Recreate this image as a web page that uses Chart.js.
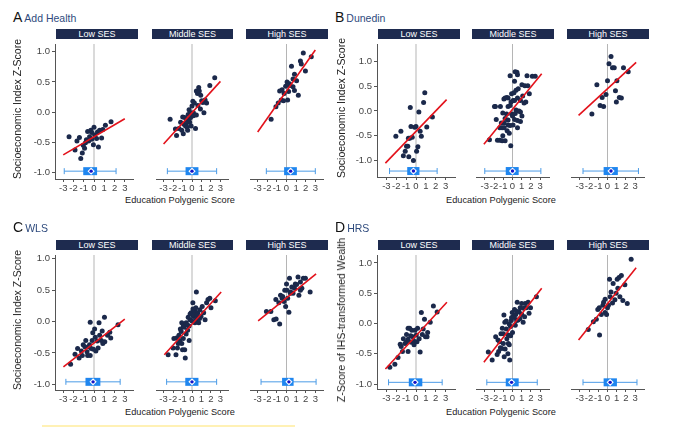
<!DOCTYPE html>
<html>
<head>
<meta charset="utf-8">
<script src="https://cdn.jsdelivr.net/npm/chart.js@4.4.1/dist/chart.umd.min.js"></script>
<style>
  body { margin: 0; width: 680px; height: 428px; background: #fff; position: relative; overflow: hidden;
         font-family: 'Liberation Sans', Arial, sans-serif; }
  canvas { position: absolute; }
  .strip { position: absolute; height: 10px; line-height: 10px; background: #1e2b4f; color: #fff;
           font-size: 9px; text-align: center; }
  .ptitle { position: absolute; white-space: nowrap; }
  .ptitle .let { font-size: 14px; color: #111; }
  .ptitle .nm { font-size: 10.5px; color: #2e4a7d; margin-left: 2px; }
  .xtitle { position: absolute; font-size: 9.2px; color: #222; white-space: nowrap; transform: translate(-50%, -50%); }
  .ytitle { position: absolute; font-size: 10.5px; color: #222; white-space: nowrap;
            transform: translate(-50%, -50%) rotate(-90deg); }
</style>
</head>
<body>
<script>
// tick labels and facet names
const xTicks = [-3, -2, -1, 0, 1, 2, 3];
const yTicks = [-1, -0.5, 0, 0.5, 1];
const groups = ['Low SES', 'Middle SES', 'High SES'];

// Add Health: points [polygenic score, SES z-score]
const addHealthLow = [[-2.43,-0.41],[-1.85,-0.63],[-1.66,-0.48],[-1.42,-0.42],[-1.29,-0.77],[-1.14,-0.68],[-1.05,-0.55],[-0.92,-0.60],[-0.83,-0.51],[-0.74,-0.46],[-0.62,-0.32],[-0.52,-0.48],[-0.43,-0.41],[-0.31,-0.30],[-0.22,-0.45],[-0.22,-0.34],[-0.06,-0.54],[0,-0.25],[0.06,-0.38],[0.25,-0.44],[0.34,-0.33],[0.43,-0.58],[0.55,-0.30],[0.74,-0.43],[0.86,-0.29],[1.11,-0.22],[1.66,-0.16]];
const addHealthMid = [[-2.31,-0.12],[-1.75,-0.28],[-1.63,-0.39],[-1.38,-0.27],[-1.2,-0.17],[-1.08,-0.30],[-0.98,-0.08],[-0.92,-0.36],[-0.86,-0.20],[-0.77,-0.09],[-0.68,-0.23],[-0.62,-0.21],[-0.58,-0.14],[-0.52,-0.25],[-0.46,-0.30],[-0.40,-0.04],[-0.31,0.04],[-0.31,-0.12],[-0.25,-0.17],[-0.15,-0.09],[-0.15,-0.01],[-0.09,-0.23],[0,0.10],[0.09,0.18],[0.15,-0.01],[0.15,-0.06],[0.25,0.15],[0.37,-0.27],[0.46,-0.05],[0.46,0.35],[0.58,0.31],[0.62,0.11],[0.71,0.41],[0.77,0.35],[0.89,0.05],[0.92,0.28],[1.02,0.19],[1.14,0.16],[1.26,-0.01],[1.38,0.20],[1.54,0.15],[1.88,0.44],[2.4,0.57]];
const addHealthHigh = [[-1.6,-0.12],[-1.1,0.09],[-0.86,0.15],[-0.71,0.35],[-0.55,0.20],[-0.46,0.37],[-0.31,0.19],[-0.25,0.31],[-0.09,0.43],[0.06,0.50],[0.12,0.20],[0.22,0.34],[0.31,0.47],[0.37,0.44],[0.52,0.76],[0.68,0.55],[0.68,0.42],[0.83,0.63],[0.83,0.36],[1.05,0.52],[1.23,0.28],[1.45,0.85],[1.54,0.80],[1.75,0.98],[1.97,0.68],[2.58,0.92]];

// Dunedin
const dunedinLow = [[-2.04,-0.51],[-1.53,-0.41],[-1.28,-0.90],[-1.09,-0.81],[-0.96,-0.71],[-0.83,-0.71],[-0.77,-0.55],[-0.73,-0.92],[-0.64,-0.55],[-0.58,0.07],[-0.51,-0.31],[-0.38,-0.53],[-0.26,-1.0],[-0.13,-0.33],[0,-0.31],[0.06,-0.81],[0.19,-0.72],[0.29,-0.02],[0.42,-0.41],[0.54,-0.51],[0.77,0.17],[0.89,0.37],[1.09,-0.32],[1.66,-0.12]];
const dunedinMid = [[-0.26,0.71],[0.48,0.78],[0.54,0.73],[1.57,0.71],[2.14,0.70],[2.46,0.70],[0.22,0.60],[1.02,0.53],[1.34,0.51],[1.66,0.51],[0.38,0.42],[-0.1,0.35],[0.16,0.37],[-0.8,0.26],[-0.48,0.26],[0.54,0.26],[1.82,0.35],[0.86,0.21],[1.25,0.16],[-0.16,0.18],[0.06,0.21],[0.22,0.21],[-1.85,0.09],[-1.31,0.09],[-0.48,0.09],[-0.26,0.11],[1.44,0.18],[0.38,0.02],[0.70,0],[0.86,-0.02],[-1.05,-0.04],[-0.64,-0.06],[-0.1,-0.06],[0,-0.10],[1.02,-0.10],[-1.76,-0.17],[-0.8,-0.15],[-0.48,-0.18],[0.22,-0.17],[0.54,-0.19],[0.86,-0.21],[-1.21,-0.24],[-0.9,-0.24],[-0.48,-0.28],[-0.26,-0.29],[0.06,-0.28],[-1.37,-0.34],[-1.12,-0.34],[-0.9,-0.34],[0.54,-0.34],[-0.58,-0.40],[-2.49,-0.58],[-1.63,-0.59],[-1.37,-0.59],[-1.12,-0.60],[-0.8,-0.60],[-1.05,-0.50],[-0.19,-0.70],[-1.95,0.09],[-0.93,0.24],[-0.61,0.27],[0.29,0.79],[0.62,0.45],[1.1,0.30],[-0.35,-0.45],[0.3,-0.05]];
const dunedinHigh = [[-1.69,-0.06],[-1.15,0.53],[-0.80,0.11],[-0.58,0.27],[-0.42,0.09],[-0.16,0.33],[0,0.61],[0.16,0.95],[0.38,1.10],[0.54,0.87],[0.73,0.87],[0.86,0.41],[0.96,0.18],[1.02,0.61],[1.28,0.27],[1.5,0.26],[1.73,0.87],[2.24,0.79]];

// WLS
const wlsLow = [[-2.28,-0.68],[-1.85,-0.52],[-1.6,-0.43],[-1.45,-0.58],[-1.23,-0.47],[-1.14,-0.54],[-1.05,-0.37],[-0.89,-0.40],[-0.8,-0.30],[-0.68,-0.48],[-0.62,-0.54],[-0.52,-0.40],[-0.43,-0.37],[-0.37,-0.01],[-0.37,-0.54],[-0.28,-0.43],[-0.18,-0.30],[-0.12,-0.18],[-0.06,-0.44],[0.06,-0.12],[0.12,-0.25],[0.18,-0.47],[0.31,-0.31],[0.4,-0.42],[0.49,-0.02],[0.55,-0.22],[0.71,-0.30],[0.8,-0.15],[0.86,-0.35],[1.02,0.07],[1.05,-0.32],[1.32,-0.22],[1.54,-0.17],[1.63,-0.26],[2.34,-0.05]];
const wlsMid = [[-2.52,-0.53],[-2.0,-0.42],[-1.69,-0.53],[-1.91,-0.27],[-1.63,-0.26],[-1.54,-0.42],[-1.45,-0.35],[-1.38,-0.22],[-1.23,-0.12],[-1.14,-0.16],[-1.08,-0.35],[-1.08,-0.02],[-0.92,-0.27],[-0.92,-0.07],[-0.83,-0.09],[-0.77,-0.45],[-0.71,-0.58],[-0.62,-0.02],[-0.62,-0.20],[-0.46,-0.14],[-0.40,0.07],[-0.31,-0.07],[-0.22,0.03],[-0.09,0.14],[0,0.01],[0.09,0.30],[0.15,0.08],[0.31,0.16],[0.31,-0.02],[0.46,0.47],[0.46,0.03],[0.62,0.14],[0.62,0.06],[0.71,-0.02],[0.83,0.19],[0.95,0.08],[1.08,0.24],[1.23,0.14],[1.38,0.03],[1.54,0.30],[1.69,0.35],[1.88,0.37],[2.0,0.22],[2.46,0.33],[-0.2,0.12],[0.2,0.10],[0.1,0.20],[-0.5,-0.05],[0.5,0.10],[-0.3,-0.30],[0.4,0.22],[-1.0,-0.45],[-1.3,-0.30],[0.8,0.05]];
const wlsHigh = [[-2.09,0.16],[-1.63,0.16],[-1.32,0.03],[-1.08,0.04],[-0.71,-0.04],[-1.11,0.35],[-0.8,0.30],[-0.62,0.42],[-0.46,0.37],[-0.25,0.32],[-0.18,0.50],[-0.09,0.24],[0,0.60],[0.12,0.37],[0.25,0.15],[0.31,0.69],[0.43,0.47],[0.55,0.55],[0.68,0.45],[0.83,0.53],[0.92,0.60],[1.05,0.59],[1.2,0.71],[1.29,0.42],[1.45,0.50],[1.45,0.63],[1.6,0.53],[1.75,0.69],[1.97,0.69],[2.46,0.47],[-0.4,0.40],[0.4,0.45],[0.05,0.50]];

// HRS
const hrsLow = [[-2.65,-0.72],[-2.14,-0.67],[-1.82,-0.56],[-1.6,-0.34],[-1.5,-0.38],[-1.37,-0.46],[-1.28,-0.25],[-1.12,-0.33],[-0.96,-0.30],[-0.96,-0.18],[-0.8,-0.08],[-0.64,-0.08],[-0.8,-0.26],[-0.8,-0.46],[-0.54,-0.20],[-0.48,-0.31],[-0.42,-0.11],[-0.32,-0.22],[-0.22,-0.29],[-0.1,-0.11],[0.03,-0.19],[0.16,-0.08],[0.32,-0.25],[0.42,-0.47],[0.54,0.18],[0.64,-0.18],[0.73,-0.09],[0.86,0.07],[0.96,-0.22],[1.12,-0.22],[1.18,-0.15],[1.44,0.02],[1.76,0.29],[2.14,0.19],[-0.2,-0.35],[0.1,-0.30]];
const hrsMid = [[-2.62,-0.47],[-2.2,-0.60],[-1.82,-0.22],[-1.57,-0.27],[-1.66,-0.51],[-1.5,-0.46],[-1.31,-0.40],[-1.15,-0.41],[-0.99,-0.33],[-1.25,-0.17],[-0.99,-0.17],[-0.93,0.14],[-0.83,0.02],[-0.67,-0.09],[-0.61,-0.25],[-0.45,-0.33],[-0.45,-0.19],[-0.35,-0.35],[-0.22,-0.05],[-0.13,0.05],[-0.03,0.18],[0.1,0.12],[0.22,0.23],[0.35,0.15],[0.51,0.35],[0.61,0.06],[0.73,0.19],[0.83,0.26],[0.99,0.33],[1.15,0.02],[1.31,0.11],[1.37,0.33],[1.5,0.26],[1.69,0.35],[1.79,0.17],[1.95,0.26],[2.59,0.44],[0.3,-0.03],[-0.35,-0.01],[-0.67,0.04],[-1.1,-0.08],[0,-0.15],[-0.5,-0.50],[-0.8,-0.42],[0.2,0.10],[0.5,0.20],[1.0,0.15],[-0.2,-0.20],[-1.4,-0.30],[0.45,0.05],[-0.1,0.10],[0.8,0.08],[1.2,0.25],[-0.9,-0.55],[-0.3,-0.60]];
const hrsHigh = [[-2.08,-0.10],[-1.53,0.03],[-1.21,0.07],[-0.86,-0.19],[-1.05,0.23],[-0.89,0.26],[-0.67,0.15],[-0.42,0.35],[-0.26,0.40],[-0.26,0.18],[-0.10,0.15],[0,0.26],[0.22,0.73],[0.29,0.44],[0.38,0.52],[0.54,0.34],[0.61,0.66],[0.8,0.39],[0.93,0.50],[1.05,0.73],[1.25,0.76],[1.5,0.79],[1.12,0.58],[1.34,0.44],[1.66,0.38],[1.88,0.64],[2.14,0.33],[2.56,1.06],[0.1,0.30],[-0.5,0.30]];

// fitted lines per facet: [x0, y0, x1, y1]
const addHealthFit = [[-3,-0.71,3,-0.11],[-3,-0.53,3,0.51],[-3,-0.33,3,1.03]];
const dunedinFit = [[-3.1,-1.05,3.1,0.23],[-3.1,-0.67,3.16,0.75],[-3.13,-0.09,3.1,0.98]];
const wlsFit = [[-2.98,-0.72,3,0.04],[-2.92,-0.53,3.08,0.47],[-2.95,0.01,3.08,0.76]];
const hrsFit = [[-3.1,-0.75,3.13,0.35],[-3.1,-0.64,3.16,0.58],[-3.13,-0.27,3.1,0.92]];

// score distribution per facet: [whisker low, q1, centre, q3, whisker high]
const addHealthBox = [[-2.9,-1.05,-0.28,0.3,2.15],[-2.6,-0.68,0,0.68,2.6],[-2.1,-0.25,0.43,1.08,3.0]];
const dunedinBox = [[-2.68,-0.89,-0.26,0.35,2.14],[-3.0,-0.73,0,0.67,3.07],[-2.65,-0.42,0.38,1.12,3.35]];
const wlsBox = [[-2.74,-0.83,-0.09,0.62,2.55],[-2.68,-0.71,0,0.68,2.6],[-2.65,-0.46,0.25,0.74,3.08]];
const hrsBox = [[-2.78,-0.73,-0.1,0.64,2.65],[-2.78,-0.73,-0.1,0.67,2.68],[-2.65,-0.42,0.29,1.02,3.19]];

const FONT = "'Liberation Sans', Arial, sans-serif";
Chart.defaults.font.family = FONT;

const colsLeft = [[55, 138], [151, 233], [245, 328]];
const colsRight = [[377, 460], [471, 554], [566, 649]];

const panels = [
  { letter: 'A', name: 'Add Health', yTitle: 'Socioeconomic Index Z-Score', pts: [addHealthLow, addHealthMid, addHealthHigh],
    fits: addHealthFit, boxes: addHealthBox, top: 39, bottom: 179, cols: colsLeft, xr: [-3.8, 3.8], yr: [-1.11, 1.13],
    boxY: -0.98, yTitleX: 17, tx: 13, ty: 8, xtx: 180, xty: 200 },
  { letter: 'B', name: 'Dunedin', yTitle: 'Socioeconomic Index Z-Score', pts: [dunedinLow, dunedinMid, dunedinHigh],
    fits: dunedinFit, boxes: dunedinBox, top: 39, bottom: 177, cols: colsRight, xr: [-3.95, 3.95], yr: [-1.33, 1.35],
    boxY: -1.21, yTitleX: 341, tx: 335, ty: 8, xtx: 501, xty: 200 },
  { letter: 'C', name: 'WLS', yTitle: 'Socioeconomic Index Z-Score', pts: [wlsLow, wlsMid, wlsHigh],
    fits: wlsFit, boxes: wlsBox, top: 250, bottom: 390, cols: colsLeft, xr: [-3.8, 3.8], yr: [-1.09, 1.06],
    boxY: -0.96, yTitleX: 17, tx: 13, ty: 218, xtx: 180, xty: 412 },
  { letter: 'D', name: 'HRS', yTitle: 'Z-Score of IHS-transformed Wealth', pts: [hrsLow, hrsMid, hrsHigh],
    fits: hrsFit, boxes: hrsBox, top: 250, bottom: 389, cols: colsRight, xr: [-3.95, 3.95], yr: [-1.08, 1.13],
    boxY: -0.97, yTitleX: 341, tx: 335, ty: 218, xtx: 501, xty: 412 }
];

function addDiv(cls, css, html) {
  const d = document.createElement('div');
  d.className = cls;
  d.style.cssText = css;
  d.innerHTML = html;
  document.body.appendChild(d);
  return d;
}

function facet(p, k) {
  const [l, r] = p.cols[k];
  const first = k === 0;
  const left = first ? Math.round(p.yTitleX - 6.3) : l;
  const yAxisW = l - left;
  const xAxisH = 14;
  const w = r - left, h = p.bottom - p.top + xAxisH;
  const cv = document.createElement('canvas');
  cv.width = w; cv.height = h;
  cv.style.cssText = `left:${left}px;top:${p.top}px;width:${w}px;height:${h}px`;
  document.body.appendChild(cv);

  const f = p.fits[k];
  const [bLo, bQ1, bMid, bQ3, bHi] = p.boxes[k];
  const axisGrid = { display: true, drawOnChartArea: false, drawTicks: true, tickLength: 3, color: '#555' };
  const axisBorder = { display: true, color: '#555', width: 1 };

  new Chart(cv, {
    type: 'scatter',
    data: {
      datasets: [
        { type: 'line', data: [{ x: 0, y: p.yr[0] }, { x: 0, y: p.yr[1] }], borderColor: '#b5b5b5', borderWidth: 1, pointRadius: 0, order: 10 },
        { data: p.pts[k].map(([x, y]) => ({ x, y })), backgroundColor: '#1b294b', borderWidth: 0, pointRadius: 2.5, order: 8, clip: false },
        { type: 'line', data: [{ x: f[0], y: f[1] }, { x: f[2], y: f[3] }], borderColor: '#e3121b', borderWidth: 1.6, pointRadius: 0, order: 6 },
        { type: 'line', data: [{ x: bLo, y: p.boxY }, { x: bHi, y: p.boxY }], borderColor: '#4b9be6', borderWidth: 1,
          pointStyle: 'line', pointRotation: 90, pointRadius: 3, pointBorderColor: '#4b9be6', pointBorderWidth: 1, order: 5 },
        { type: 'line', data: [{ x: bQ1, y: p.boxY }, { x: bQ3, y: p.boxY }], borderColor: '#1f86ef', borderWidth: 8,
          borderCapStyle: 'butt', pointRadius: 0, order: 4 },
        { data: [{ x: bMid, y: p.boxY }], pointStyle: 'rectRot', pointRadius: 3.6, backgroundColor: '#ffffff', borderWidth: 0, order: 3 },
        { data: [{ x: bMid, y: p.boxY }], pointRadius: 1.7, backgroundColor: '#1414c8', borderWidth: 0, order: 2 }
      ]
    },
    options: {
      responsive: false, animation: false, devicePixelRatio: 1,
      layout: { padding: 0 },
      plugins: { legend: { display: false }, tooltip: { enabled: false } },
      scales: {
        x: {
          type: 'linear', min: p.xr[0], max: p.xr[1],
          afterBuildTicks: s => { s.ticks = xTicks.map(v => ({ value: v })); },
          afterFit: s => { s.height = xAxisH; s.paddingLeft = 0; s.paddingRight = 0; },
          ticks: { callback: v => String(v), font: { size: 9.5 }, color: '#444', padding: 1, maxRotation: 0, autoSkip: false },
          grid: axisGrid, border: axisBorder
        },
        y: {
          type: 'linear', display: first, min: p.yr[0], max: p.yr[1],
          afterBuildTicks: s => { s.ticks = yTicks.map(v => ({ value: v })); },
          afterFit: s => { s.width = yAxisW; s.paddingTop = 0; s.paddingBottom = 0; },
          ticks: { callback: v => Number(v).toFixed(1), font: { size: 9.5 }, color: '#444', padding: 2, autoSkip: false },
          grid: axisGrid, border: axisBorder
        }
      }
    }
  });

  addDiv('strip', `left:${l + 1}px;top:${p.top - 10}px;width:${r - l - 1}px`, groups[k]);
}

panels.forEach(p => {
  addDiv('ptitle', `left:${p.tx}px;top:${p.ty}px`, `<span class="let">${p.letter}</span><span class="nm">${p.name}</span>`);
  for (let k = 0; k < 3; k++) facet(p, k);
  addDiv('ytitle', `left:${p.yTitleX}px;top:${(p.top + p.bottom) / 2}px`, p.yTitle);
  addDiv('xtitle', `left:${p.xtx}px;top:${p.xty}px`, 'Education Polygenic Score');
});

// faint highlight stroke under panel C
addDiv('', 'position:absolute;left:42px;top:425px;width:253px;height:2px;background:#fff1b5', '');
</script>
</body>
</html>
